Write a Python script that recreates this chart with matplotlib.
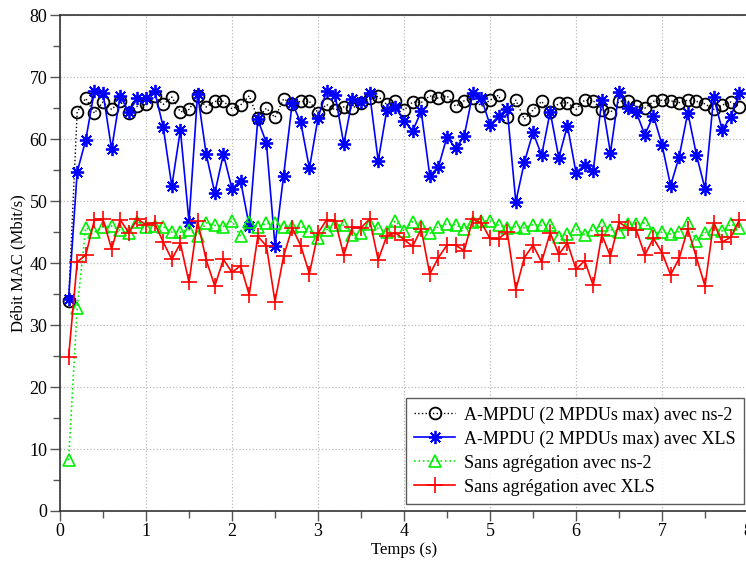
import numpy as np
import matplotlib
matplotlib.use("Agg")
import matplotlib.pyplot as plt
from matplotlib.ticker import MultipleLocator

# time axis (s): one sample every 0.1 s, 0.1 -> 7.9
temps = np.round(np.arange(1, 80) * 0.1, 1)

# A-MPDU (2 MPDUs max) avec ns-2
ampdu_ns2 = [
    33.9, 64.4, 66.6, 64.2, 66.0, 64.8, 66.1, 64.3, 65.3, 65.6,
    66.9, 65.6, 66.8, 64.4, 64.8, 66.9, 65.2, 66.1, 66.1, 64.9,
    65.5, 67.0, 63.4, 65.0, 63.5, 66.5, 65.7, 66.1, 66.1, 64.3,
    65.6, 64.7, 65.2, 65.0, 65.9, 66.7, 66.9, 65.6, 66.1, 64.7,
    66.0, 65.9, 67.0, 66.6, 67.0, 65.3, 66.2, 66.6, 65.3, 66.3,
    67.1, 63.5, 66.3, 63.2, 64.7, 66.1, 64.4, 65.8, 65.9, 64.8,
    66.3, 66.2, 64.7, 64.3, 66.1, 66.2, 65.3, 65.0, 66.1, 66.3,
    66.2, 65.9, 66.3, 66.1, 65.7, 64.8, 65.5, 66.0, 65.2,
]

# A-MPDU (2 MPDUs max) avec XLS
ampdu_xls = [
    34.2, 54.7, 59.9, 67.8, 67.5, 58.4, 67.0, 64.4, 66.6, 66.6,
    67.8, 62.0, 52.4, 61.5, 46.7, 67.3, 57.6, 51.3, 57.6, 52.0,
    53.3, 46.0, 63.2, 59.4, 42.8, 54.1, 65.8, 62.7, 55.3, 63.4,
    67.8, 67.1, 59.2, 66.5, 66.0, 67.4, 56.5, 64.7, 65.2, 63.0,
    61.3, 64.5, 54.1, 55.5, 60.4, 58.5, 60.5, 67.4, 66.6, 62.3,
    63.7, 64.9, 49.9, 56.3, 61.1, 57.4, 64.4, 57.0, 62.2, 54.6,
    55.8, 54.9, 66.3, 57.8, 67.6, 65.1, 64.4, 60.7, 63.8, 59.1,
    52.5, 57.2, 64.3, 57.5, 52.0, 66.8, 61.5, 63.6, 67.4,
]

# Sans agregation avec ns-2
sans_ns2 = [
    8.2, 32.7, 45.7, 45.0, 45.8, 46.0, 45.3, 44.8, 46.7, 45.9,
    46.0, 45.9, 45.0, 45.0, 45.4, 44.4, 46.5, 46.1, 45.9, 46.8,
    44.3, 46.7, 45.8, 46.4, 46.4, 45.9, 45.9, 46.0, 45.2, 44.1,
    45.4, 46.2, 46.1, 44.5, 44.8, 46.3, 45.6, 45.1, 46.8, 45.2,
    46.7, 46.0, 44.8, 45.9, 46.3, 46.2, 45.5, 46.7, 46.8, 46.8,
    46.1, 45.7, 45.9, 45.7, 46.2, 46.1, 46.2, 44.2, 44.7, 45.5,
    44.6, 45.4, 46.1, 45.4, 45.1, 46.3, 46.3, 46.5, 44.9, 45.0,
    44.7, 45.1, 46.4, 43.6, 44.9, 45.5, 45.2, 46.3, 45.7,
]

# Sans agregation avec XLS
sans_xls = [
    24.8, 40.2, 41.3, 47.0, 47.1, 42.3, 47.0, 44.9, 47.1, 46.2,
    46.5, 43.4, 40.6, 43.2, 36.9, 46.8, 40.5, 36.3, 40.6, 38.5,
    39.6, 34.9, 44.3, 42.8, 33.8, 41.1, 45.7, 42.8, 38.3, 44.8,
    47.0, 46.8, 41.3, 45.8, 45.7, 47.1, 40.5, 44.4, 44.9, 43.8,
    42.7, 45.5, 38.2, 40.9, 42.9, 42.9, 42.0, 47.1, 46.5, 44.0,
    43.9, 45.1, 35.7, 40.9, 42.9, 40.2, 44.9, 41.4, 43.3, 39.0,
    40.4, 36.4, 44.6, 41.1, 46.6, 45.7, 45.4, 41.3, 44.0, 41.7,
    38.1, 40.8, 45.5, 40.9, 36.3, 46.5, 43.4, 44.2, 47.0,
]

labels = [
    "A-MPDU (2 MPDUs max) avec ns-2",
    "A-MPDU (2 MPDUs max) avec XLS",
    "Sans agrégation avec ns-2",
    "Sans agrégation avec XLS",
]

plt.rcParams["font.family"] = ["Liberation Serif", "DejaVu Serif"]

fig = plt.figure(figsize=(7.46, 5.63), dpi=100)
# the right edge of the axes runs slightly past the figure, as in the original
ax = fig.add_axes([0.0804, 0.0924, 0.9223, 0.8805])

ax.plot(temps, ampdu_ns2, color="black", ls=":", lw=1.0, marker="o",
        ms=8.5, mfc="none", mec="black", mew=1.3, label=labels[0])
ax.plot(temps, ampdu_xls, color="blue", ls="-", lw=1.2, marker=(8, 2, 0),
        ms=9.5, mec="blue", mew=1.3, label=labels[1])
ax.plot(temps, sans_ns2, color="#00ee00", ls=":", lw=1.2, marker="^",
        ms=8, mfc="none", mec="#00ee00", mew=1.2, label=labels[2])
ax.plot(temps, sans_xls, color="red", ls="-", lw=1.2, marker="+",
        ms=11, mec="red", mew=1.2, label=labels[3])

ax.set_xlim(0, 8)
ax.set_ylim(0, 80)
ax.xaxis.set_major_locator(MultipleLocator(1))
ax.xaxis.set_minor_locator(MultipleLocator(0.5))
ax.yaxis.set_major_locator(MultipleLocator(10))
ax.yaxis.set_minor_locator(MultipleLocator(5))
ax.tick_params(which="major", direction="out", length=7, width=1,
               color="#555555", labelsize=13, pad=2)
ax.tick_params(which="minor", direction="out", length=5, width=1,
               color="#555555")
ax.grid(True, which="major", ls=":", color="#bbbbbb", lw=0.9)
for s in ax.spines.values():
    s.set_color("#333333")
    s.set_linewidth(1.2)

ax.set_xlabel("Temps (s)", fontsize=12, labelpad=1)
ax.set_ylabel("Débit MAC (Mbit/s)", fontsize=12, labelpad=2)

leg = ax.legend(loc="lower right", bbox_to_anchor=(0.9945, 0.0147),
                fontsize=13, frameon=True, fancybox=False,
                handlelength=2.3, handletextpad=0.5, borderpad=0.45,
                labelspacing=0.38, borderaxespad=0)
leg.get_frame().set_edgecolor("#333333")
leg.get_frame().set_linewidth(1.0)

fig.savefig("out.png", dpi=100)
